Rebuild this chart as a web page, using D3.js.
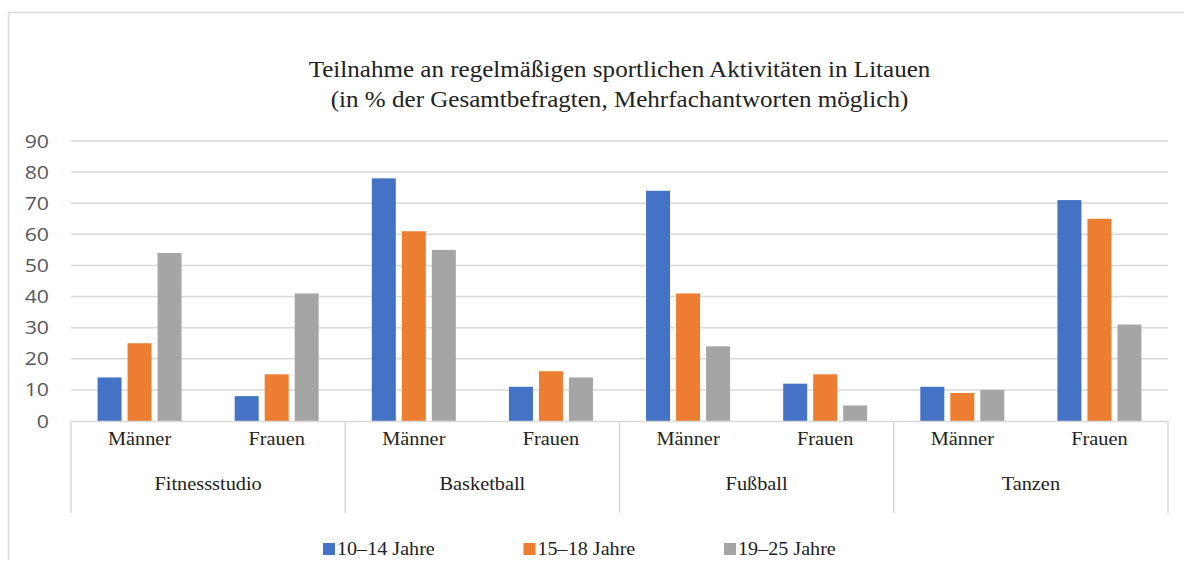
<!DOCTYPE html>
<html>
<head>
<meta charset="utf-8">
<script src="https://cdn.jsdelivr.net/npm/d3@7"></script>
<style>
  body { margin: 0; background: #fff; }
  svg { display: block; }
</style>
</head>
<body>
<svg id="chart"></svg>
<script>
// data
const sports = ["Fitnessstudio", "Basketball", "Fußball", "Tanzen"];
const genders = ["Männer", "Frauen"];
const seriesNames = ["10–14 Jahre", "15–18 Jahre", "19–25 Jahre"];
const colors = ["#4472C4", "#ED7D31", "#A5A5A5"];
// per sub-group (sport x gender), in order
const age10to14 = [14, 8, 78, 11, 74, 12, 11, 71];
const age15to18 = [25, 15, 61, 16, 41, 15, 9, 65];
const age19to25 = [54, 41, 55, 14, 24, 5, 10, 31];
const yTicks = [0, 10, 20, 30, 40, 50, 60, 70, 80, 90];
const titleLines = [
  "Teilnahme an regelmäßigen sportlichen Aktivitäten in Litauen",
  "(in % der Gesamtbefragten, Mehrfachantworten möglich)"
];

const W = 1184, H = 581;
const margin = { top: 141, right: 16, bottom: 160, left: 71 };
const width = W - margin.left - margin.right;
const height = H - margin.top - margin.bottom;

const svg = d3.select("#chart").attr("width", W).attr("height", H);

const serif = "'Liberation Serif', 'Times New Roman', serif";
const textColor = "#222";

// the original text is a bit wider than a plain font; stretch it horizontally
const stretch = (sel, sx) => {
  sel.each(function () {
    const t = d3.select(this);
    const x = +t.attr("x") || 0;
    const yy = +t.attr("y") || 0;
    t.attr("x", 0).attr("y", 0)
      .attr("transform", "translate(" + x + "," + yy + ") scale(" + sx + ",1)");
  });
};

// outer chart border (left + top visible)
svg.append("path")
  .attr("d", "M8.5,560 L8.5,12.5 L1184,12.5")
  .attr("fill", "none")
  .attr("stroke", "#d9d9d9")
  .attr("stroke-width", 1.5);

svg.selectAll(".title")
  .data(titleLines)
  .enter()
  .append("text")
  .attr("class", "title")
  .attr("x", margin.left + width / 2)
  .attr("y", (_, i) => 77 + i * 30)
  .attr("text-anchor", "middle")
  .style("font-family", serif)
  .style("font-size", "23px")
  .style("fill", textColor)
  .text((d) => d)
  .call(stretch, 1.09);

const g = svg.append("g")
  .attr("transform", "translate(" + margin.left + "," + margin.top + ")");

const groups = [];
sports.forEach((s) => genders.forEach((gd) => groups.push(s + "|" + gd)));

const x0 = d3.scaleBand().domain(groups).range([0, width]);
const xSport = d3.scaleBand().domain(sports).range([0, width]);
const y = d3.scaleLinear().domain([0, 90]).range([height, 0]);

// gridlines
g.append("g")
  .selectAll("line")
  .data(yTicks.filter((t) => t > 0))
  .enter()
  .append("line")
  .attr("x1", 0)
  .attr("x2", width)
  .attr("y1", (d) => y(d))
  .attr("y2", (d) => y(d))
  .attr("stroke", "#d9d9d9")
  .attr("stroke-width", 1.5);

// y axis labels
const yAxis = d3.axisLeft(y).tickValues(yTicks).tickSize(0).tickPadding(22);
const gY = g.append("g").call(yAxis);
gY.select(".domain").remove();
gY.selectAll("text")
  .style("font-family", "'Open Sans', 'Noto Sans', sans-serif")
  .style("font-size", "19px")
  .style("fill", "#595959")
  .attr("transform", "translate(-22,0) scale(1.12,1)")
  .attr("x", 0);

// bars
const xInner = d3.scaleBand()
  .domain(d3.range(seriesNames.length))
  .range([x0.bandwidth() / 2 - 42, x0.bandwidth() / 2 + 42])
  .paddingInner(0.2);

const seriesValues = [age10to14, age15to18, age19to25];
const barData = [];
groups.forEach((grp, gi) => {
  seriesValues.forEach((vals, si) => {
    barData.push({ grp: grp, s: si, v: vals[gi] });
  });
});

g.append("g")
  .selectAll("rect")
  .data(barData)
  .enter()
  .append("rect")
  .attr("x", (d) => x0(d.grp) + xInner(d.s))
  .attr("y", (d) => y(d.v))
  .attr("width", xInner.bandwidth())
  .attr("height", (d) => height - y(d.v))
  .attr("fill", (d) => colors[d.s]);

// category table under the axis
const lineColor = "#d9d9d9";
g.append("line")
  .attr("x1", 0).attr("x2", width)
  .attr("y1", height + 0.5).attr("y2", height + 0.5)
  .attr("stroke", lineColor).attr("stroke-width", 1.5);

const boundaries = sports.map((s) => xSport(s)).concat([width]);
g.append("g")
  .selectAll("line")
  .data(boundaries)
  .enter()
  .append("line")
  .attr("x1", (d) => d)
  .attr("x2", (d) => d)
  .attr("y1", height)
  .attr("y2", height + 92)
  .attr("stroke", lineColor)
  .attr("stroke-width", 1.5);

g.append("g")
  .selectAll("text")
  .data(groups)
  .enter()
  .append("text")
  .attr("x", (d) => x0(d) + x0.bandwidth() / 2)
  .attr("y", height + 24)
  .attr("text-anchor", "middle")
  .style("font-family", serif)
  .style("font-size", "19px")
  .style("fill", textColor)
  .text((d) => d.split("|")[1])
  .call(stretch, 1.07);

g.append("g")
  .selectAll("text")
  .data(sports)
  .enter()
  .append("text")
  .attr("x", (d) => xSport(d) + xSport.bandwidth() / 2)
  .attr("y", height + 69)
  .attr("text-anchor", "middle")
  .style("font-family", serif)
  .style("font-size", "19px")
  .style("fill", textColor)
  .text((d) => d)
  .call(stretch, 1.07);

// legend
const legendX = d3.scalePoint().domain(seriesNames).range([323, 724]);
const legend = svg.append("g")
  .selectAll("g")
  .data(seriesNames)
  .enter()
  .append("g")
  .attr("transform", (d) => "translate(" + legendX(d) + ",543)");

legend.append("rect")
  .attr("width", 12)
  .attr("height", 12)
  .attr("fill", (_, i) => colors[i]);

legend.append("text")
  .attr("x", 14)
  .attr("y", 12)
  .style("font-family", serif)
  .style("font-size", "19px")
  .style("fill", textColor)
  .text((d) => d)
  .call(stretch, 1.06);
</script>
</body>
</html>
